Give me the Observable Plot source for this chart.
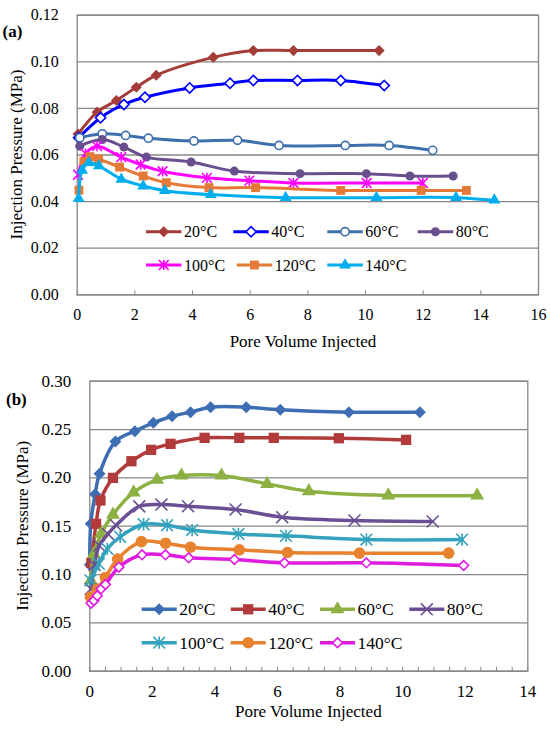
<!DOCTYPE html>
<html><head><meta charset="utf-8">
<script src="https://cdn.jsdelivr.net/npm/d3@7"></script>
<script src="https://cdn.jsdelivr.net/npm/@observablehq/plot@0.6"></script>
<style>
body{margin:0;background:#fff;}
</style></head><body>
<script>
// ---------- DATA ----------
const seriesNames = ["20°C","40°C","60°C","80°C","100°C","120°C","140°C"];

// Panel (a): [pore volume injected, injection pressure MPa]
const a20  = [[0.03,0.069],[0.69,0.0784],[1.36,0.0834],[2.05,0.0891],[2.74,0.0942],[4.72,0.1019],[6.11,0.1048],[7.5,0.1048],[10.47,0.1048]];
const a40  = [[0.05,0.0674],[0.81,0.076],[1.62,0.0817],[2.35,0.0848],[3.9,0.0888],[5.3,0.0908],[6.11,0.092],[7.64,0.092],[9.14,0.092],[10.65,0.0898]];
const a60  = [[0.09,0.0674],[0.87,0.0691],[1.68,0.0684],[2.47,0.0672],[4.05,0.066],[5.56,0.0663],[7.0,0.0641],[9.3,0.0641],[10.82,0.0641],[12.33,0.062]];
const a80  = [[0.09,0.0638],[0.87,0.0666],[1.62,0.0634],[2.4,0.0591],[3.95,0.057],[5.45,0.0531],[7.73,0.052],[10.03,0.052],[11.54,0.051],[13.04,0.051]];
const a100 = [[0.03,0.0515],[0.29,0.0606],[0.69,0.0638],[1.53,0.0591],[2.2,0.0559],[2.96,0.053],[4.5,0.0502],[5.97,0.049],[7.5,0.048],[10.04,0.048],[11.99,0.048]];
const a120 = [[0.06,0.0449],[0.23,0.0572],[0.44,0.0593],[0.74,0.0583],[1.47,0.0548],[2.29,0.051],[3.09,0.0481],[4.57,0.046],[6.19,0.046],[9.14,0.0448],[11.93,0.0448],[13.5,0.0448]];
const a140 = [[0.05,0.0413],[0.17,0.0534],[0.4,0.0567],[0.75,0.0553],[1.53,0.0496],[2.29,0.0467],[3.04,0.0447],[4.63,0.043],[7.23,0.0417],[10.38,0.0417],[13.14,0.0417],[14.47,0.0406]];

// Panel (b)
const b20  = [[0.0,0.110],[0.03,0.1525],[0.17,0.183],[0.31,0.2042],[0.82,0.2376],[1.44,0.2483],[2.03,0.2569],[2.63,0.2638],[3.22,0.268],[3.86,0.2731],[5.0,0.2731],[6.09,0.2704],[8.28,0.268],[10.55,0.268]];
const b40  = [[0.05,0.112],[0.2,0.1525],[0.34,0.1766],[0.74,0.2],[1.33,0.2172],[1.96,0.229],[2.58,0.2352],[3.67,0.2414],[4.78,0.2414],[5.88,0.2414],[7.96,0.241],[10.11,0.2393]];
const b60  = [[0.03,0.094],[0.13,0.1214],[0.36,0.142],[0.74,0.162],[1.4,0.185],[2.15,0.198],[2.93,0.2024],[4.21,0.2024],[5.67,0.1938],[7.0,0.1862],[9.54,0.1818],[12.38,0.1818]];
const b80  = [[0.03,0.085],[0.15,0.11],[0.3,0.13],[0.58,0.142],[0.84,0.151],[1.58,0.1705],[2.29,0.1724],[3.14,0.1707],[4.66,0.1673],[6.15,0.1593],[8.46,0.1559],[10.96,0.1549]];
const b100 = [[0.02,0.094],[0.29,0.111],[0.56,0.1266],[0.97,0.139],[1.72,0.152],[2.47,0.151],[3.27,0.146],[4.75,0.142],[6.27,0.14],[8.84,0.1362],[11.9,0.1362]];
const b120 = [[0.02,0.0766],[0.24,0.085],[0.5,0.097],[0.89,0.116],[1.65,0.134],[2.42,0.1324],[3.22,0.1283],[4.78,0.1256],[6.32,0.1228],[8.62,0.1221],[11.47,0.1221]];
const b140 = [[0.04,0.0703],[0.13,0.073],[0.24,0.078],[0.36,0.0852],[0.5,0.0897],[0.93,0.1076],[1.67,0.1204],[2.42,0.1204],[3.16,0.1173],[4.62,0.1155],[6.22,0.1121],[8.84,0.1121],[11.95,0.1093]];

// Tick values
const xTicksA = [0,2,4,6,8,10,12,14,16];
const yTicksA = [0,0.02,0.04,0.06,0.08,0.10,0.12];
const xTicksB = [0,2,4,6,8,10,12,14];
const xMinorB = d3.range(0,14.001,0.5);
const yTicksB = [0,0.05,0.10,0.15,0.20,0.25,0.30];

// ---------- STYLES ----------
const FONT = "Times New Roman";
const GRID = "#868686";
const excelStar = {draw(ctx, size){ const r = Math.sqrt(size)*0.55;
  ctx.moveTo(-r,-r); ctx.lineTo(r,r); ctx.moveTo(-r,r); ctx.lineTo(r,-r);
  ctx.moveTo(0,-r*1.05); ctx.lineTo(0,r*1.05); }};
const symMap = {diamond2:d3.symbolDiamond2, circle:d3.symbolCircle, square:d3.symbolSquare, triangle:d3.symbolTriangle, times:d3.symbolTimes};

const panelA = {
  data:[a20,a40,a60,a80,a100,a120,a140],
  styles:[
    {color:"#A43D39", symbol:"diamond2", r:5, fill:"solid"},
    {color:"#0000FF", symbol:"diamond2", r:4.6, fill:"white"},
    {color:"#3E70AE", symbol:"circle", r:4.1, fill:"white"},
    {color:"#6A4F8E", symbol:"circle", r:4.5, fill:"solid"},
    {color:"#FF00FF", symbol:excelStar, r:5, fill:"none"},
    {color:"#E47A36", symbol:"square", r:5, fill:"solid"},
    {color:"#00AEEF", symbol:"triangle", r:4.4, fill:"solid"}
  ],
  lineWidth:3, height:360,
  margin:{top:14.7,bottom:65.7,left:76.7,right:12},
  xDomain:[0,16], yDomain:[0,0.12], xTicks:xTicksA, xMinor:xTicksA, yTicks:yTicksA,
  fontSize:16, legendFont:16,
  tag:"(a)", tagPos:[2.5,37], yTitlePos:[16,154.5], xTitlePos:[303,347],
  legend:[[146,231.7],[233.3,231.7],[327.3,231.7],[417.7,231.7],[146,265],[236.7,265],[327.3,265]],
  legendLen:35.5
};
const panelB = {
  data:[b20,b40,b60,b80,b100,b120,b140],
  styles:[
    {color:"#3D6DB3", symbol:"diamond2", r:5.4, fill:"solid"},
    {color:"#B03B3A", symbol:"square", r:5.8, fill:"solid"},
    {color:"#8DB043", symbol:"triangle", r:5.2, fill:"solid"},
    {color:"#6B4F93", symbol:"times", r:5.5, fill:"none"},
    {color:"#33A2BC", symbol:excelStar, r:6, fill:"none"},
    {color:"#E8822F", symbol:"circle", r:5.8, fill:"solid"},
    {color:"#E01BE0", symbol:"diamond2", r:4.4, fill:"white"}
  ],
  lineWidth:3.5, height:369,
  margin:{top:20.7,bottom:58.3,left:89.3,right:22.7},
  xDomain:[0,14], yDomain:[0,0.30], xTicks:xTicksB, xMinor:xMinorB, yTicks:yTicksB,
  fontSize:17, legendFont:17.5,
  tag:"(b)", tagPos:[6,44.5], yTitlePos:[22.5,165.7], xTitlePos:[308.3,357],
  legend:[[141.7,249.3],[230.7,249.3],[320,249.3],[409.3,249.3],[141.7,282.7],[230.7,282.7],[320,282.7]],
  legendLen:35
};

const tickUp = {draw(ctx, l){ ctx.moveTo(0,0); ctx.lineTo(0,-l); }};

function makePanel(P){
  const marks = [
    Plot.gridY(P.yTicks, {stroke:GRID, strokeOpacity:1, strokeWidth:1.3}),
    Plot.frame({stroke:GRID, strokeWidth:1.3}),
    Plot.vector(P.xMinor, {x:d=>d, frameAnchor:"bottom", length:4, anchor:"start", shape:tickUp, stroke:GRID, strokeWidth:1}),
    Plot.axisY(P.yTicks, {tickSize:0, tickPadding:18.5, tickFormat:d3.format(".2f"), label:null, fontFamily:FONT}),
    Plot.axisX(P.xTicks, {tickSize:0, tickPadding:14, tickFormat:d3.format("d"), label:null, fontFamily:FONT})
  ];
  P.data.forEach((d,i)=>{
    const s = P.styles[i];
    marks.push(Plot.line(d, {x:p=>p[0], y:p=>p[1], stroke:s.color, strokeWidth:P.lineWidth, curve:"catmull-rom"}));
    const fill = s.fill==="solid" ? s.color : s.fill;
    const stroked = s.fill!=="solid";
    marks.push(Plot.dot(d, {x:p=>p[0], y:p=>p[1], symbol:s.symbol, r:s.r, fill:fill,
      stroke: stroked ? s.color : "none", strokeWidth: stroked ? 1.6 : 0}));
  });
  const svg = Plot.plot({
    width:550, height:P.height,
    marginTop:P.margin.top, marginBottom:P.margin.bottom, marginLeft:P.margin.left, marginRight:P.margin.right,
    x:{domain:P.xDomain}, y:{domain:P.yDomain},
    style:{fontFamily:"'Times New Roman'", fontSize:P.fontSize+"px"},
    marks
  });
  const g = d3.select(svg).attr("font-family", FONT);
  g.append("text").attr("x",P.tagPos[0]).attr("y",P.tagPos[1]).attr("text-anchor","start").attr("font-family",FONT)
    .attr("font-weight","bold").attr("font-size",17).attr("fill","#000").text(P.tag);
  g.append("text").attr("transform",`translate(${P.yTitlePos[0]},${P.yTitlePos[1]}) rotate(-90)`).attr("font-family",FONT)
    .attr("text-anchor","middle").attr("dy","0.35em").attr("font-size",17).attr("fill","#000")
    .text("Injection Pressure (MPa)");
  g.append("text").attr("x",P.xTitlePos[0]).attr("y",P.xTitlePos[1]).attr("text-anchor","middle").attr("font-family",FONT)
    .attr("font-size",17).attr("fill","#000").text("Pore Volume Injected");
  const lg = g.append("g");
  seriesNames.forEach((name,i)=>{
    const s = P.styles[i], [lx,ly] = P.legend[i];
    const it = lg.append("g").attr("transform",`translate(${lx},${ly})`);
    it.append("line").attr("x1",0).attr("x2",P.legendLen).attr("y1",0).attr("y2",0)
      .attr("stroke",s.color).attr("stroke-width",P.lineWidth);
    const type = typeof s.symbol==="string" ? symMap[s.symbol] : s.symbol;
    const stroked = s.fill!=="solid";
    it.append("path").attr("transform",`translate(${P.legendLen/2},0)`)
      .attr("d", d3.symbol().type(type).size(Math.PI*s.r*s.r)())
      .attr("fill", s.fill==="solid"? s.color : s.fill)
      .attr("stroke", stroked ? s.color : "none").attr("stroke-width", stroked?1.6:0);
    it.append("text").attr("x",P.legendLen+2.5).attr("y",0).attr("dy","0.35em").attr("font-family",FONT)
      .attr("text-anchor","start").attr("font-size",P.legendFont).attr("fill","#000").text(name);
  });
  g.selectAll("text").attr("font-family", FONT);
  return svg;
}

document.body.appendChild(makePanel(panelA));
document.body.appendChild(makePanel(panelB));
</script>
</body></html>
